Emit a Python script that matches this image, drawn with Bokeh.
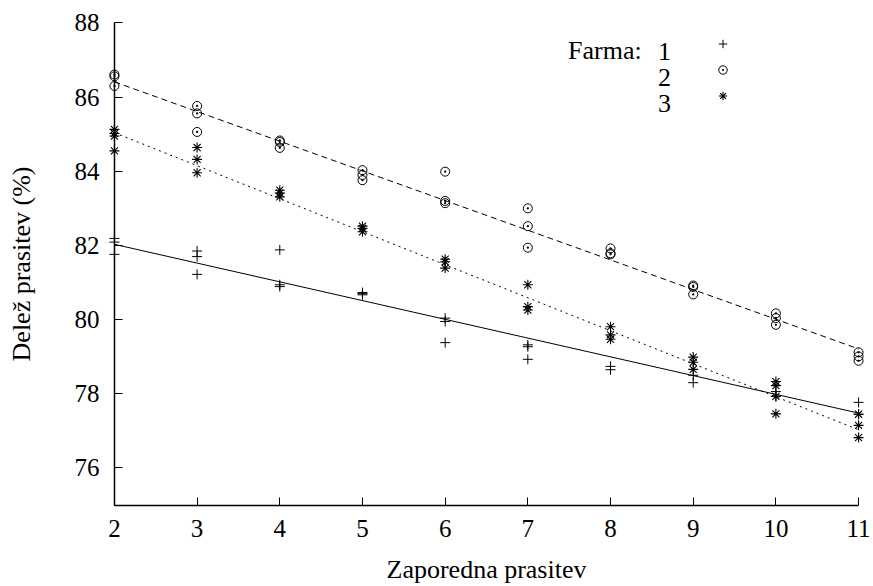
from bokeh.plotting import figure
from bokeh.models import Range1d, FixedTicker, Label, Legend, LegendItem, LinearAxis
from bokeh.embed import file_html
from bokeh.resources import INLINE

# ---- data ----
farm1_x = [2, 2, 2, 3, 3, 3, 4, 4, 4, 5, 5, 5, 6, 6, 6, 7, 7, 7, 8, 8, 9, 9, 10, 10, 11, 11]
farm1_y = [82.19, 82.09, 81.76, 81.85, 81.70, 81.22, 81.88, 80.94, 80.89, 80.73, 80.70, 80.67,
           80.04, 79.95, 79.38, 79.32, 79.27, 78.93, 78.74, 78.65, 78.50, 78.30, 78.06, 77.93,
           77.77, 77.45]

farm2_x = [2, 2, 2, 3, 3, 3, 4, 4, 4, 5, 5, 5, 6, 6, 6, 7, 7, 7, 8, 8, 8, 9, 9, 9, 10, 10, 10, 11, 11, 11]
farm2_y = [86.61, 86.56, 86.30, 85.76, 85.56, 85.06, 84.83, 84.79, 84.63, 84.03, 83.90, 83.76,
           83.99, 83.20, 83.14, 83.00, 82.52, 81.94, 81.92, 81.79, 81.76, 80.92, 80.88, 80.68,
           80.17, 80.04, 79.86, 79.12, 79.01, 78.89]

farm3_x = [2, 2, 2, 2, 3, 3, 3, 4, 4, 4, 5, 5, 5, 6, 6, 6, 7, 7, 7, 8, 8, 8, 9, 9, 9, 10, 10, 10, 10, 11, 11, 11]
farm3_y = [85.13, 85.02, 84.95, 84.55, 84.64, 84.32, 83.96, 83.49, 83.41, 83.31, 82.52, 82.46, 82.37,
           81.63, 81.56, 81.39, 80.94, 80.35, 80.26, 79.81, 79.59, 79.47, 78.99, 78.85, 78.66,
           78.33, 78.22, 77.93, 77.46, 77.45, 77.15, 76.82]

fit_x = [2, 11]
fit1_y = [82.03, 77.48]
fit2_y = [86.41, 79.21]
fit3_y = [85.04, 77.03]

x_ticks = [2, 3, 4, 5, 6, 7, 8, 9, 10, 11]
y_ticks = [76, 78, 80, 82, 84, 86, 88]
legend_title = "Farma:"
legend_names = ["1", "2", "3"]

FONT = "Liberation Serif"

# frame geometry (screen px)
FL, FR, FT, FB = 104, 868, 15, 513

p = figure(width=873, height=586, output_backend="svg", toolbar_location=None,
           x_range=Range1d(1.88, 11.12), y_range=Range1d(74.8, 88.2),
           min_border_left=FL, min_border_right=873 - FR,
           min_border_top=FT, min_border_bottom=586 - FB)
p.outline_line_color = None
p.grid.visible = False
p.background_fill_color = "white"
p.border_fill_color = "white"

# label axes (at frame edges): only tick labels and titles
for ax in (p.xaxis[0], p.yaxis[0]):
    ax.axis_line_color = None
    ax.major_tick_line_color = None
    ax.minor_tick_line_color = None
    ax.major_tick_in = 0
    ax.major_tick_out = 0
    ax.minor_tick_in = 0
    ax.minor_tick_out = 0
    ax.major_label_text_font = FONT
    ax.major_label_text_font_size = "25px"
    ax.major_label_text_color = "black"
    ax.axis_label_text_font = FONT
    ax.axis_label_text_font_size = "26px"
    ax.axis_label_text_font_style = "normal"
    ax.axis_label_text_color = "black"

p.xaxis[0].ticker = FixedTicker(ticks=x_ticks)
p.yaxis[0].ticker = FixedTicker(ticks=y_ticks)
p.xaxis[0].bounds = (2, 11)
p.yaxis[0].bounds = (75, 88)
p.xaxis[0].axis_label = "Zaporedna prasitev"
p.yaxis[0].axis_label = "Delež prasitev (%)"
p.xaxis[0].major_label_standoff = 7
p.xaxis[0].axis_label_standoff = 15
p.yaxis[0].major_label_standoff = 5
p.yaxis[0].axis_label_standoff = 36

# line axes placed at x=2 / y=75 with inward ticks
def rule_axis(ticks, bounds, loc):
    a = LinearAxis(ticker=FixedTicker(ticks=ticks), bounds=bounds, fixed_location=loc)
    a.axis_line_width = 1.5
    a.axis_line_color = "black"
    a.major_tick_in = 8
    a.major_tick_out = 0
    a.minor_tick_in = 0
    a.minor_tick_out = 0
    a.major_tick_line_color = "black"
    a.major_tick_line_width = 1
    a.major_label_text_alpha = 0
    a.major_label_text_font_size = "1px"
    return a

p.add_layout(rule_axis(x_ticks, (2, 11), 75), "below")
p.add_layout(rule_axis(y_ticks, (75, 88), 2), "left")

# fitted lines
p.line(fit_x, fit1_y, line_color="black", line_width=1)
p.line(fit_x, fit2_y, line_color="black", line_width=1, line_dash="6 4")
p.line(fit_x, fit3_y, line_color="black", line_width=1, line_dash="2 4")

# points
r1 = p.scatter(farm1_x, farm1_y, marker="cross", size=10, line_color="black", line_width=1)
r2 = p.scatter(farm2_x, farm2_y, marker="circle_dot", size=9, line_color="black",
               fill_color=None, line_width=1)
r3 = p.scatter(farm3_x, farm3_y, marker="asterisk", size=10, line_color="black", line_width=1.1)

legend = Legend(items=[LegendItem(label=" ", renderers=[r]) for r in (r1, r2, r3)],
                location=(608, 406), orientation="vertical",
                glyph_width=21, glyph_height=21, spacing=5, padding=0, margin=0,
                label_text_font_size="1px", label_width=1, label_height=1, label_standoff=0,
                border_line_color=None, background_fill_alpha=0)
p.add_layout(legend, "center")

def sx(px):
    return px - FL

def sy(py):
    return FB - py

p.add_layout(Label(x=sx(567.5), y=sy(51.3), x_units="screen", y_units="screen",
                   text=legend_title, text_font=FONT, text_font_size="26px",
                   text_baseline="alphabetic", text_align="left", text_color="black"))
for name, base in zip(legend_names, [51.5, 77.8, 103.5]):
    p.add_layout(Label(x=sx(664), y=sy(base), x_units="screen", y_units="screen",
                       text=name, text_font=FONT, text_font_size="26px",
                       text_baseline="alphabetic", text_align="center", text_color="black"))

open("out.html", "w").write(file_html(p, INLINE))
